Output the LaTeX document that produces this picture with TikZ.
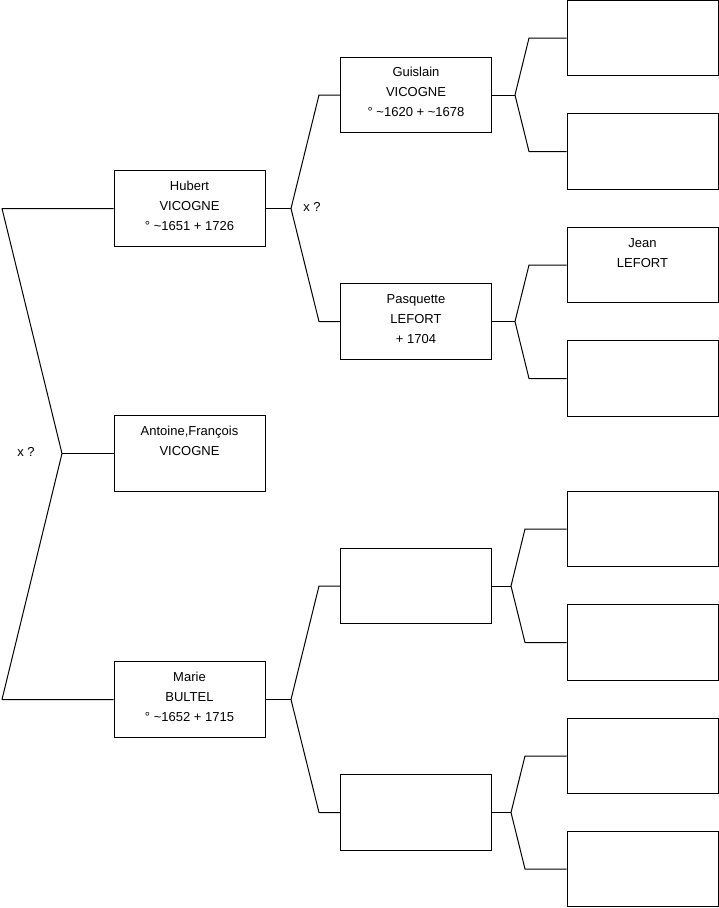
\documentclass[tikz,border=0pt]{standalone}
\usepackage{fontspec}
\setmainfont{Liberation Sans}
\usetikzlibrary{calc}
\begin{document}
\begin{tikzpicture}[x=1pt,y=-1pt,
  box/.style={draw=black,line width=1pt,minimum width=151pt,minimum height=75.5pt,inner sep=0pt,fill=white},
  txt/.style={anchor=base,align=center,inner sep=0pt,font=\fontsize{13}{20}\selectfont},
  conn/.style={draw=black,line width=1pt,line join=round}]
\useasboundingbox (0,0) rectangle (719,908);
% column 1
\node[box] (hubert) at (189.5,208.5) {};
\node[box] (antoine) at (189.5,453.5) {};
\node[box] (marie) at (189.5,699.5) {};
% column 2
\node[box] (guislain) at (416,95) {};
\node[box] (pasquette) at (416,321.5) {};
\node[box] (b1) at (416,586) {};
\node[box] (b2) at (416,812.5) {};
% column 3
\node[box] (g1) at (642.5,38) {};
\node[box] (g2) at (642.5,151.5) {};
\node[box] (jean) at (642.5,265) {};
\node[box] (p2) at (642.5,378.5) {};
\node[box] (c1) at (642.5,529) {};
\node[box] (c2) at (642.5,642.5) {};
\node[box] (c3) at (642.5,756) {};
\node[box] (c4) at (642.5,869) {};
% texts (anchor = baseline of last line)
\node[txt] (hubertT) at ($(hubert.north)+(0,60)$) {Hubert\\VICOGNE\\° \textasciitilde1651 + 1726};
\node[txt] (antoineT) at ($(antoine.north)+(0,40.5)$) {Antoine,François\\VICOGNE};
\node[txt] (marieT) at ($(marie.north)+(0,60)$) {Marie\\BULTEL\\° \textasciitilde1652 + 1715};
\node[txt] (guislainT) at ($(guislain.north)+(0,60)$) {Guislain\\VICOGNE\\° \textasciitilde1620 + \textasciitilde1678};
\node[txt] (pasquetteT) at ($(pasquette.north)+(0,60)$) {Pasquette\\LEFORT\\+ 1704};
\node[txt] (jeanT) at ($(jean.north)+(0,40.5)$) {Jean\\LEFORT};
% labels
\node[txt,anchor=center] (x1) at (26,451.5) {x ?};
\node[txt,anchor=center] (x2) at (312,207) {x ?};
% root fork
\coordinate (ar) at (62,453.5);
\coordinate (cr) at (2,0);
\draw[conn] (hubert.west) -- (cr |- hubert.west) -- (ar) -- (cr |- marie.west) -- (marie.west);
\draw[conn] (ar) -- (antoine.west);
% Hubert fork
\coordinate (ah) at (291,208.5);
\coordinate (ch) at (319,0);
\draw[conn] (guislain.west) -- (ch |- guislain.west) -- (ah) -- (ch |- pasquette.west) -- (pasquette.west);
\draw[conn] (ah) -- (hubert.east);
% Marie fork
\coordinate (am) at (291,699.5);
\draw[conn] (b1.west) -- (ch |- b1.west) -- (am) -- (ch |- b2.west) -- (b2.west);
\draw[conn] (am) -- (marie.east);
% Guislain fork
\coordinate (ag) at (515,95);
\coordinate (cg) at (529,0);
\draw[conn] (g1.west) -- (cg |- g1.west) -- (ag) -- (cg |- g2.west) -- (g2.west);
\draw[conn] (ag) -- (guislain.east);
% Pasquette fork
\coordinate (ap) at (515,321.5);
\draw[conn] (jean.west) -- (cg |- jean.west) -- (ap) -- (cg |- p2.west) -- (p2.west);
\draw[conn] (ap) -- (pasquette.east);
% blank 1 fork
\coordinate (a1) at (511,586);
\coordinate (cb) at (525,0);
\draw[conn] (c1.west) -- (cb |- c1.west) -- (a1) -- (cb |- c2.west) -- (c2.west);
\draw[conn] (a1) -- (b1.east);
% blank 2 fork
\coordinate (a2) at (511,812.5);
\draw[conn] (c3.west) -- (cb |- c3.west) -- (a2) -- (cb |- c4.west) -- (c4.west);
\draw[conn] (a2) -- (b2.east);
\end{tikzpicture}
\end{document}
